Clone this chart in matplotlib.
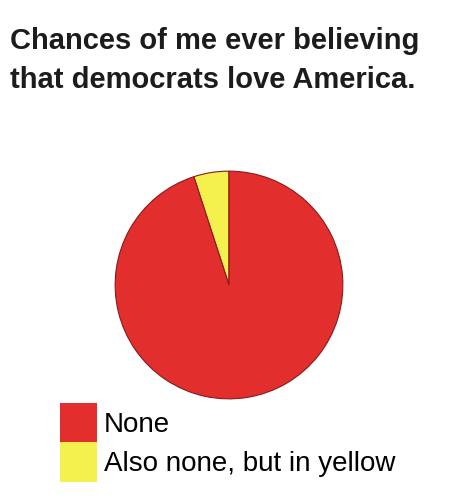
import matplotlib
matplotlib.use("Agg")
import matplotlib.pyplot as plt

# ── Data ────────────────────────────────────────────────────────────────────
labels = ["Also none, but in yellow", "None"]
shares = [5, 95]
colors = ["#F4F04E", "#E22F2E"]
title = "Chances of me ever believing\nthat democrats love America."

W, H = 452, 500
fig = plt.figure(figsize=(W / 100, H / 100), dpi=100)
fig.patch.set_facecolor("white")

# title, top-left
fig.text(10 / W, 1 - 27 / H, title, ha="left", va="top",
         fontsize=21, fontweight="bold", family="Liberation Sans",
         color="#1c1c1c", linespacing=1.5)

# pie, centre (229, 285) px, radius 115 px
cx, cy, r = 229, 285, 115
ax = fig.add_axes([(cx - r) / W, 1 - (cy + r) / H, 2 * r / W, 2 * r / H])
wedges, _ = ax.pie(shares, colors=colors, startangle=90, counterclock=True,
                   wedgeprops=dict(edgecolor="#8a1a1a", linewidth=0.8))
ax.set_xlim(-1.01, 1.01)
ax.set_ylim(-1.01, 1.01)
ax.set_aspect("equal")
ax.axis("off")

# legend: red first, then yellow
leg = fig.legend([wedges[1], wedges[0]], [labels[1], labels[0]],
                 loc="upper left", bbox_to_anchor=(60 / W, 1 - 403 / H),
                 frameon=False, handlelength=1.33, handleheight=1.8,
                 labelspacing=0.0, handletextpad=0.25, borderpad=0,
                 borderaxespad=0, prop=dict(family="Liberation Sans", size=20))
for h in leg.legend_handles:
    h.set_edgecolor("none")

fig.savefig("out.png", dpi=100)
